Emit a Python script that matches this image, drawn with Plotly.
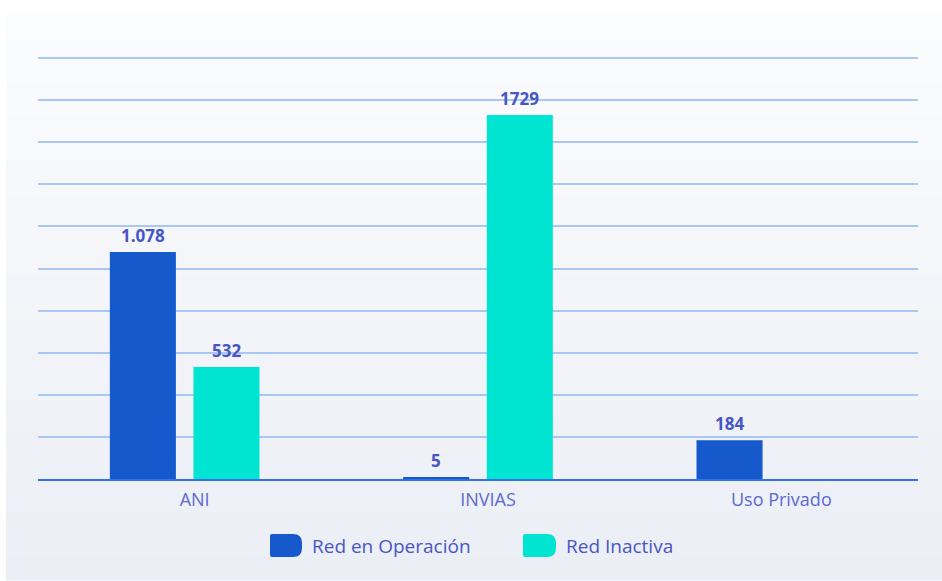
import plotly.graph_objects as go

categories = ["ANI", "INVIAS", "Uso Privado"]
operacion = [1078, 5, 184]
inactiva = [532, 1729, None]
operacion_text = ["1.078", "5", "184"]
inactiva_text = ["532", "1729", ""]
series_names = ["Red en Operación", "Red Inactiva"]
y_ticks = list(range(0, 2001, 200))

BLUE = "#1559cc"
TEAL = "#00e5d2"
LABEL = "#4756c6"
FONT = "Open Sans"

W, H = 942, 581
ML, MR, MT, MB = 38, 24, 48, 102
PW, PH = W - ML - MR, H - MT - MB
Y_TOP = 2000 * PH / 421.0  # keep 2000 at the same pixel as the reference's top gridline


def px(x):
    return (x - ML) / PW


def py(y):
    return (H - MB - y) / PH


fig = go.Figure()
fig.add_trace(go.Bar(x=categories, y=operacion, name=series_names[0],
                     marker=dict(color=BLUE, line=dict(width=0)), showlegend=False))
fig.add_trace(go.Bar(x=categories, y=inactiva, name=series_names[1],
                     marker=dict(color=TEAL, line=dict(width=0)), showlegend=False))

shapes = []
# background gradient panel
x0, x1, y0, y1 = 6, 942, 15, 580
n = 50
c_top = (251, 252, 254)
c_bot = (235, 238, 245)
for i in range(n):
    t = i / (n - 1)
    col = tuple(round(c_top[k] + (c_bot[k] - c_top[k]) * t) for k in range(3))
    ya = y0 + (y1 - y0) * i / n
    yb = y0 + (y1 - y0) * (i + 1) / n + 0.5
    shapes.append(dict(type="rect", xref="paper", yref="paper", layer="below",
                       x0=px(x0), x1=px(x1), y0=py(yb), y1=py(ya),
                       fillcolor="rgb(%d,%d,%d)" % col, line=dict(width=0)))

annotations = []
slot = 41.75
for vals, texts, sh in ((operacion, operacion_text, -slot), (inactiva, inactiva_text, slot)):
    for c, v, t in zip(categories, vals, texts):
        if v is None:
            continue
        annotations.append(dict(x=c, y=v, xref="x", yref="y", text="<b>%s</b>" % t,
                                showarrow=False, xshift=sh, yshift=17, yanchor="middle",
                                font=dict(family=FONT, size=17, color=LABEL)))


# custom legend
def swatch(xa, xb, ya, yb, r=9, r0=2):
    return ("M %f,%f L %f,%f Q %f,%f %f,%f L %f,%f Q %f,%f %f,%f L %f,%f Q %f,%f %f,%f L %f,%f Q %f,%f %f,%f Z" % (
        px(xa + r0), py(ya), px(xb - r), py(ya), px(xb), py(ya), px(xb), py(ya + r),
        px(xb), py(yb - r), px(xb), py(yb), px(xb - r), py(yb),
        px(xa + r0), py(yb), px(xa), py(yb), px(xa), py(yb - r0),
        px(xa), py(ya + r0), px(xa), py(ya), px(xa + r0), py(ya)))


legend_items = [(270, 302, series_names[0], BLUE), (523, 556, series_names[1], TEAL)]
for xa, xb, name, col in legend_items:
    shapes.append(dict(type="path", xref="paper", yref="paper", path=swatch(xa, xb, 534, 557),
                       fillcolor=col, line=dict(width=0)))
    annotations.append(dict(x=px(xb + 8), y=py(545.5), xref="paper", yref="paper", text=name,
                            showarrow=False, xanchor="left", yanchor="middle",
                            font=dict(family=FONT, size=19, color=LABEL)))

fig.update_layout(
    width=W, height=H,
    margin=dict(l=ML, r=MR, t=MT, b=MB),
    paper_bgcolor="white", plot_bgcolor="rgba(0,0,0,0)",
    barmode="group", bargap=0.43, bargroupgap=0.21,
    shapes=shapes, annotations=annotations,
    showlegend=False,
    font=dict(family=FONT),
)
fig.update_xaxes(showline=True, linecolor="#2f72ea", linewidth=2, showgrid=False,
                 ticks="outside", ticklen=3, tickcolor="rgba(0,0,0,0)",
                 ticklabelshift=10,
                 tickfont=dict(family=FONT, size=18, color="#5b69d2"))
fig.update_yaxes(range=[0, Y_TOP], tickvals=y_ticks, showticklabels=False,
                 showgrid=True, gridcolor="#a9c7f6", gridwidth=1.5, zeroline=False)

fig.write_html("out.html")
